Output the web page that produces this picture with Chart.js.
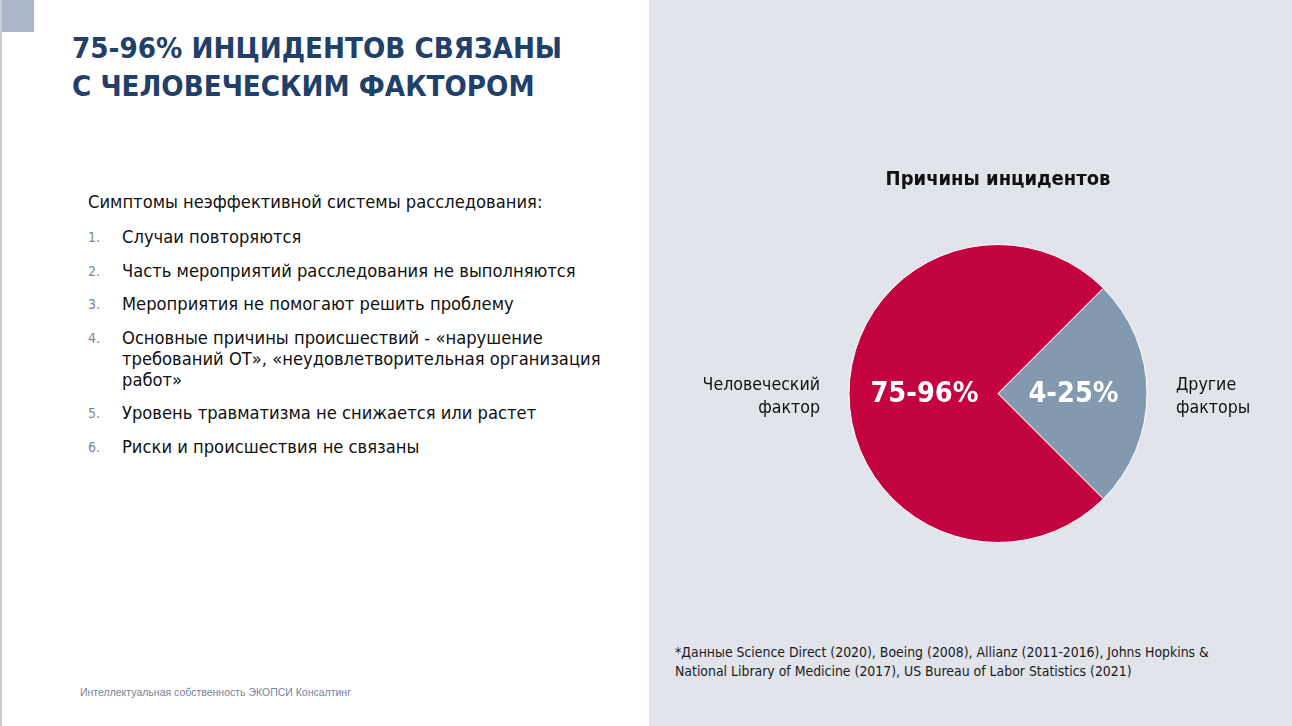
<!DOCTYPE html>
<html lang="ru">
<head>
<meta charset="utf-8">
<script src="https://cdn.jsdelivr.net/npm/chart.js"></script>
<style>
  html, body { margin: 0; padding: 0; }
  body {
    width: 1292px; height: 726px; overflow: hidden; position: relative;
    background: #ffffff; font-family: "DejaVu Sans Condensed", "DejaVu Sans", sans-serif;
  }
  .edge { position: absolute; left: 0; top: 0; width: 2px; height: 726px; background: #c9ccd2; }
  .corner { position: absolute; left: 2px; top: 0; width: 32px; height: 32px; background: #a9b8ca; }
  .right { position: absolute; left: 649px; top: 0; width: 643px; height: 726px; background: #e1e4eb; }
  h1 {
    position: absolute; left: 72px; top: 29px; margin: 0;
    font-size: 29.2px; line-height: 38px; font-weight: bold; color: #1f4068;
  }
  .intro { position: absolute; left: 88px; top: 191px; font-size: 18.2px; color: #111; }
  ol { position: absolute; left: 88px; top: 226px; margin: 0; padding: 0; list-style: none; }
  ol li { position: relative; padding-left: 34px; font-size: 18.2px; line-height: 21px; color: #111; margin-bottom: 12.5px; width: 500px; }
  ol li span { position: absolute; left: 0; top: 1px; font-size: 14px; color: #7d879a; }
  .foot { position: absolute; left: 80px; top: 686px; font-family: "Liberation Sans", Arial, sans-serif; font-size: 10.5px; color: #77829a; }
  .note { position: absolute; left: 675px; top: 643px; font-size: 13.9px; line-height: 19px; color: #1a1a1a; }
  #wrap { position: absolute; left: 704px; top: 150px; width: 588px; height: 420px; }
</style>
</head>
<body>
<div class="edge"></div>
<div class="corner"></div>
<div class="right"></div>
<h1>75-96% ИНЦИДЕНТОВ СВЯЗАНЫ<br>С ЧЕЛОВЕЧЕСКИМ ФАКТОРОМ</h1>
<div class="intro">Симптомы неэффективной системы расследования:</div>
<ol id="list"></ol>
<div class="foot">Интеллектуальная собственность ЭКОПСИ Консалтинг</div>
<div class="note">*Данные Science Direct (2020), Boeing (2008), Allianz (2011-2016), Johns Hopkins &amp;<br>National Library of Medicine (2017), US Bureau of Labor Statistics (2021)</div>
<div id="wrap"><canvas id="pie"></canvas></div>
<script>
// chart data
const categories = ["Другие факторы", "Человеческий фактор"];
const shares = [25, 75];
const sliceLabels = ["4-25%", "75-96%"];
const sideLabels = [["Другие", "факторы"], ["Человеческий", "фактор"]];
const colors = ["#8299b0", "#c40440"];

const symptoms = [
  "Случаи повторяются",
  "Часть мероприятий расследования не выполняются",
  "Мероприятия не помогают решить проблему",
  "Основные причины происшествий - «нарушение требований ОТ», «неудовлетворительная организация работ»",
  "Уровень травматизма не снижается или растет",
  "Риски и происшествия не связаны"
];

const list = document.getElementById("list");
symptoms.forEach((s, i) => {
  const li = document.createElement("li");
  li.innerHTML = "<span>" + (i + 1) + ".</span>" + s;
  list.appendChild(li);
});

const FONT = '"DejaVu Sans Condensed", "DejaVu Sans", sans-serif';

// draws the percent labels inside and the names beside each slice
const labelPlugin = {
  id: "sliceLabels",
  afterDatasetsDraw(chart) {
    const ctx = chart.ctx;
    const arcs = chart.getDatasetMeta(0).data;
    ctx.save();
    arcs.forEach((arc, i) => {
      const mid = (arc.startAngle + arc.endAngle) / 2;
      const pos = arc.tooltipPosition();
      ctx.fillStyle = "#ffffff";
      ctx.font = "bold 28.6px " + FONT;
      ctx.textAlign = "center";
      ctx.textBaseline = "middle";
      ctx.fillText(sliceLabels[i], pos.x + 1, pos.y + 1);

      const r = arc.outerRadius + 29;
      const x = arc.x + Math.cos(mid) * r;
      const y = arc.y + Math.sin(mid) * r;
      ctx.fillStyle = "#111";
      ctx.font = "17.6px " + FONT;
      ctx.textAlign = Math.cos(mid) < 0 ? "right" : "left";
      sideLabels[i].forEach((t, k) => ctx.fillText(t, x, y - 8 + k * 23));
    });
    ctx.restore();
  }
};

new Chart(document.getElementById("pie"), {
  type: "pie",
  data: {
    labels: categories,
    datasets: [{
      data: shares,
      backgroundColor: colors,
      borderColor: "#ffffff",
      borderWidth: 1,
      hoverOffset: 0
    }]
  },
  options: {
    responsive: true,
    maintainAspectRatio: false,
    animation: false,
    rotation: 45,
    layout: { padding: { bottom: 27 } },
    plugins: {
      legend: { display: false },
      tooltip: { enabled: false },
      title: {
        display: true,
        text: "Причины инцидентов",
        color: "#111",
        font: { family: FONT, size: 20, weight: "bold" },
        padding: { top: 18, bottom: 52 }
      }
    }
  },
  plugins: [labelPlugin]
});
</script>
</body>
</html>
